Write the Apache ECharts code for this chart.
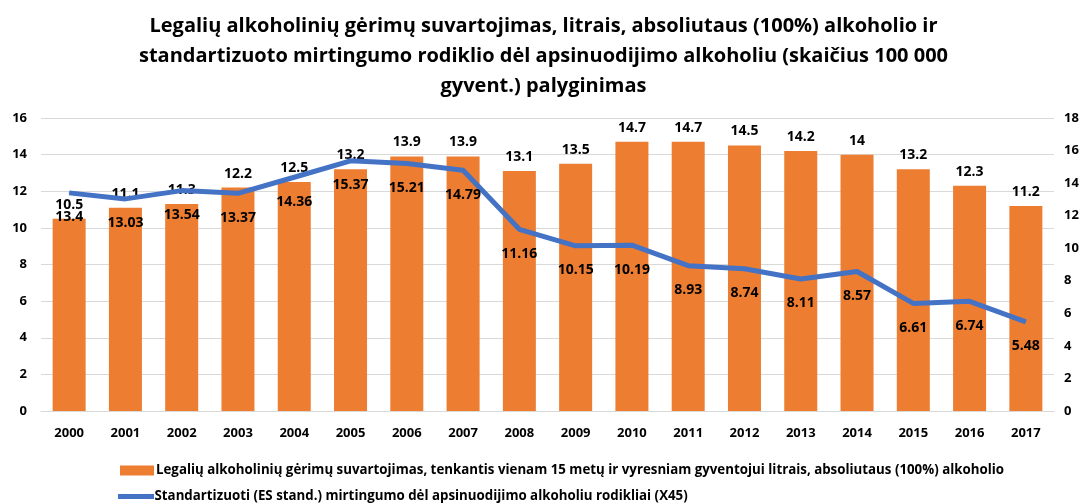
<!DOCTYPE html>
<html><head><meta charset="utf-8">
<script src="https://cdn.jsdelivr.net/npm/echarts@6/dist/echarts.min.js"></script>
<style>html,body{margin:0;padding:0;background:#fff}#c{width:1087px;height:504px}</style>
</head><body><div id="c"></div>
<script>
const years = ['2000','2001','2002','2003','2004','2005','2006','2007','2008','2009','2010','2011','2012','2013','2014','2015','2016','2017'];
const consumption = [10.5,11.1,11.3,12.2,12.5,13.2,13.9,13.9,13.1,13.5,14.7,14.7,14.5,14.2,14,13.2,12.3,11.2];
const mortality = [13.4,13.03,13.54,13.37,14.36,15.37,15.21,14.79,11.16,10.15,10.19,8.93,8.74,8.11,8.57,6.61,6.74,5.48];
const barName = 'Legalių alkoholinių gėrimų suvartojimas, tenkantis vienam 15 metų ir vyresniam gyventojui litrais, absoliutaus (100%) alkoholio';
const lineName = 'Standartizuoti (ES stand.) mirtingumo dėl apsinuodijimo alkoholiu rodikliai (X45)';
const titleText = 'Legalių alkoholinių gėrimų suvartojimas, litrais, absoliutaus (100%) alkoholio ir\nstandartizuoto mirtingumo rodiklio dėl apsinuodijimo alkoholiu (skaičius 100 000\ngyvent.) palyginimas';
const FONT = '"Open Sans", Lato, sans-serif';
const chart = echarts.init(document.getElementById('c'), null, {renderer:'canvas'});
chart.setOption({
  animation:false,
  textStyle:{fontFamily:FONT},
  title:{text:titleText,left:'center',top:6,textStyle:{fontFamily:FONT,fontSize:20,fontWeight:'bold',color:'#000',lineHeight:30}},
  grid:{left:41,right:33,top:118,bottom:93,containLabel:false},
  legend:[
    {left:115,top:459,itemWidth:34,itemHeight:10,
      textStyle:{fontFamily:FONT,fontSize:13.3,fontWeight:'bold',color:'#000',padding:[0,0,0,-3]},
      data:[{name:barName,icon:'rect'}]},
    {left:113,top:485,itemWidth:37,itemHeight:5,
      textStyle:{fontFamily:FONT,fontSize:13.3,fontWeight:'bold',color:'#000',padding:[0,0,0,-5]},
      data:[{name:lineName,icon:'path://M0,0 L36,0 L36,5 L0,5 Z',itemStyle:{color:'#4472c4'}}]}
  ],
  xAxis:{type:'category',data:years,axisLine:{show:true,lineStyle:{color:'#d9d9d9',width:1}},axisTick:{show:false},
    axisLabel:{fontFamily:FONT,fontSize:13,fontWeight:'bold',color:'#000',margin:16}},
  yAxis:[
    {type:'value',min:0,max:16,interval:2,axisLine:{show:false},axisTick:{show:false},
      splitLine:{lineStyle:{color:'#d9d9d9',width:1}},
      axisLabel:{fontFamily:FONT,fontSize:13,fontWeight:'bold',color:'#000',margin:14}},
    {type:'value',min:0,max:18,interval:2,axisLine:{show:false},axisTick:{show:false},splitLine:{show:false},
      axisLabel:{fontFamily:FONT,fontSize:13,fontWeight:'bold',color:'#000',margin:10}}
  ],
  series:[
    {name:barName,type:'bar',data:consumption,barWidth:33,itemStyle:{color:'#ed7d31'},
      label:{show:true,position:'top',distance:7,fontFamily:FONT,fontSize:14,fontWeight:'bold',color:'#000'}},
    {name:lineName,type:'line',yAxisIndex:1,data:mortality,symbol:'circle',symbolSize:1,showSymbol:true,
      lineStyle:{color:'#4472c4',width:5},itemStyle:{color:'#4472c4'},
      label:{show:true,position:'bottom',distance:17,fontFamily:FONT,fontSize:14,fontWeight:'bold',color:'#000'}}
  ]
});
</script></body></html>
